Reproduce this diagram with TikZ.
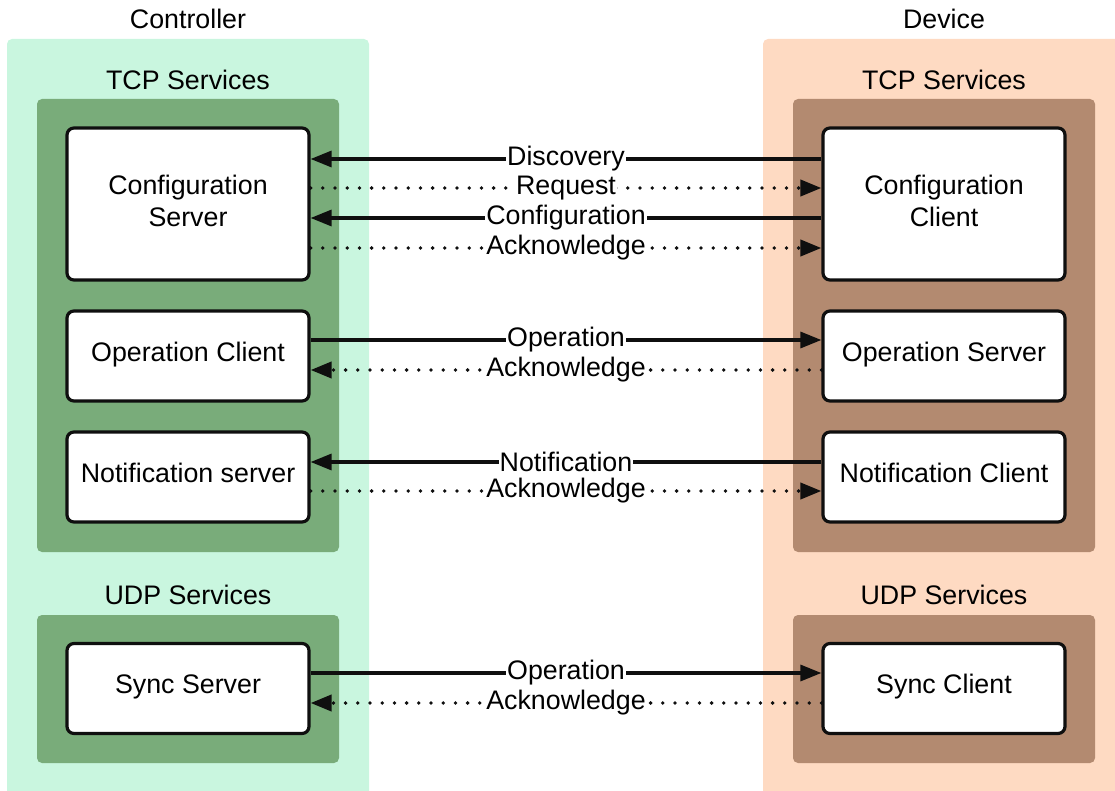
\documentclass[tikz,border=0pt]{standalone}
\usepackage{fontspec}
\setmainfont{Liberation Sans}
\usetikzlibrary{arrows.meta,calc}
\definecolor{ctrlbg}{HTML}{C9F6DF}
\definecolor{ctrlgrp}{HTML}{79AC7A}
\definecolor{devbg}{HTML}{FEDAC2}
\definecolor{devgrp}{HTML}{B38A70}
\definecolor{ink}{HTML}{0F0F0F}
\tikzset{
  panel/.style={fill=#1, draw=none, rounded corners=5pt},
  svc/.style={draw=ink, line width=3.2pt, fill=white, rounded corners=7pt,
    minimum width=242pt, align=center, inner sep=0pt,
    font=\fontsize{26.8}{32}\selectfont},
  ttl/.style={inner sep=0pt, font=\fontsize{26.8}{32}\selectfont},
  lab/.style={fill=white, inner sep=1.2pt, font=\fontsize{26.8}{32}\selectfont},
  tip/.style={-{Triangle[length=21pt,width=16pt]}},
  msg/.style={draw=ink, line width=3.2pt, tip},
  ack/.style={draw=ink, line width=3.8pt, line cap=round,
    dash pattern=on 0pt off 12.2pt, tip},
}
\begin{document}
\begin{tikzpicture}[x=1pt,y=-1pt]
\useasboundingbox (0,0) rectangle (1115,791);
% outer columns
\fill[panel=ctrlbg] (7,39) rectangle (369,800);
\fill[panel=devbg] (763,39) rectangle (1124,800);
\node[ttl] (ctrl) at (188,19) {Controller};
\node[ttl] (dev) at (944,19) {Device};
% service groups
\node[ttl] (ctcp) at (188,80) {TCP Services};
\node[ttl] (dtcp) at (944,80) {TCP Services};
\fill[panel=ctrlgrp] (37,99) rectangle (339,552);
\fill[panel=devgrp] (793,99) rectangle (1095,552);
\node[ttl] (cudp) at (188,595) {UDP Services};
\node[ttl] (dudp) at (944,595) {UDP Services};
\fill[panel=ctrlgrp] (37,615) rectangle (339,763);
\fill[panel=devgrp] (793,615) rectangle (1095,763);
% controller services
\node[svc, minimum height=152pt, text depth=7pt] (cs) at (188,204) {Configuration\\Server};
\node[svc, minimum height=90pt, text depth=9pt] (oc) at (188,356) {Operation Client};
\node[svc, minimum height=90pt, text depth=9pt] (ns) at (188,477) {Notification server};
\node[svc, minimum height=90pt, text depth=9pt] (ss) at (188,688.5) {Sync Server};
% device services
\node[svc, minimum height=152pt, text depth=7pt] (cc) at (944,204) {Configuration\\Client};
\node[svc, minimum height=90pt, text depth=9pt] (os) at (944,356) {Operation Server};
\node[svc, minimum height=90pt, text depth=9pt] (nc) at (944,477) {Notification Client};
\node[svc, minimum height=90pt, text depth=9pt] (sc) at (944,688.5) {Sync Client};
% configuration exchange
\draw[msg] (cc.west |- 0,159) -- node[lab] {Discovery} (cs.east |- 0,159);
\draw[ack] (cs.east |- 0,188) -- node[lab] {Request} (cc.west |- 0,188);
\draw[msg] (cc.west |- 0,218) -- node[lab] {Configuration} (cs.east |- 0,218);
\draw[ack] (cs.east |- 0,248) -- node[lab] {Acknowledge} (cc.west |- 0,248);
% operation exchange
\draw[msg] (oc.east |- 0,340) -- node[lab] {Operation} (os.west |- 0,340);
\draw[ack] (os.west |- 0,370) -- node[lab] {Acknowledge} (oc.east |- 0,370);
% notification exchange
\draw[msg] (nc.west |- 0,462) -- node[lab] {Notification} (ns.east |- 0,462);
\draw[ack] (ns.east |- 0,491) -- node[lab] {Acknowledge} (nc.west |- 0,491);
% sync exchange
\draw[msg] (ss.east |- 0,673) -- node[lab] {Operation} (sc.west |- 0,673);
\draw[ack] (sc.west |- 0,703) -- node[lab] {Acknowledge} (ss.east |- 0,703);
\end{tikzpicture}
\end{document}
